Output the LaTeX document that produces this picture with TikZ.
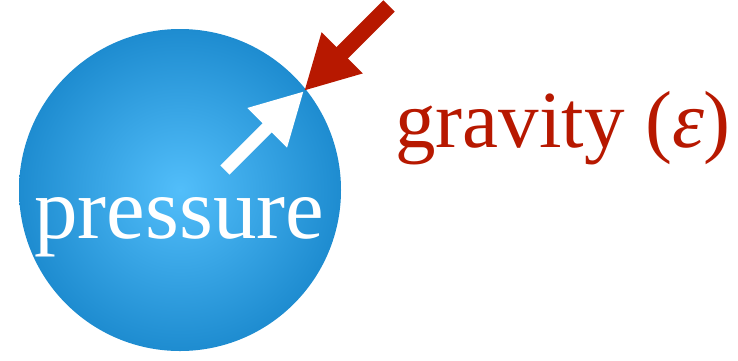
\documentclass[tikz,border=0pt]{standalone}
\usepackage{fontspec}
\setmainfont{Liberation Serif}
\usetikzlibrary{arrows.meta}
\definecolor{gravred}{RGB}{183,24,0}
\definecolor{ballin}{RGB}{82,190,250}
\definecolor{ballout}{RGB}{30,140,208}
\begin{document}
\begin{tikzpicture}[
    x=0.5pt, y=-0.5pt,
    ball/.style={circle, minimum size=161pt, inner sep=0pt, shade, inner color=ballin, outer color=ballout},
    label/.style={font=\fontsize{40.5}{46}\selectfont, anchor=base west, inner sep=0pt},
    push/.style={line width=6.5pt, white, -{Triangle[length=26pt, width=26pt]}},
    pull/.style={line width=8pt, gravred, -{Triangle[length=27pt, width=27pt]}}
]
    \useasboundingbox (0,0) rectangle (738,360);

    % Ball
    \node[ball] (ball) at (180,190) {};
    \node[label, text=white, font=\fontsize{43.5}{50}\selectfont] (pressure) at (34,238) {pressure};

    % Contact point on the surface
    \coordinate (contact) at (304,91);
    \coordinate (inner) at (225,170);
    \coordinate (outer) at (389,6);

    % Arrows
    \draw[push] (inner) -- (contact);
    \draw[pull] (outer) -- (contact);

    % Gravity label
    \node[label, text=gravred] (gravity) at (395,147) {gravity (\textit{ε})};
\end{tikzpicture}
\end{document}
